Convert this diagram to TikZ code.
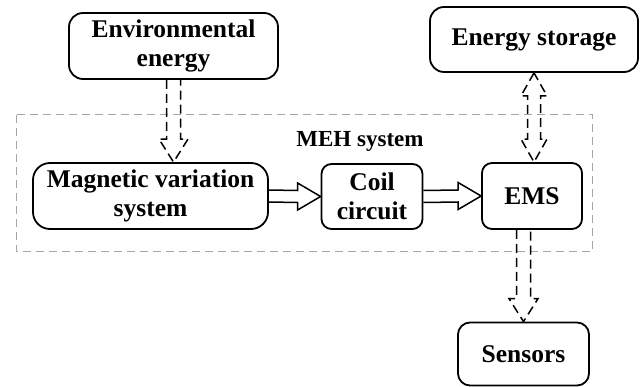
\documentclass[tikz,border=0pt]{standalone}
\usepackage{fontspec}
\setmainfont{Liberation Serif}
\usetikzlibrary{calc}

% block arrow outlines, start point and tip given by node anchors
\newcommand{\harrow}[2]{\draw[hollow] ($(#1)+(0,-6)$) -- ($(#2)+(-23,-6)$) -- ($(#2)+(-23,-13.5)$) -- (#2) -- ($(#2)+(-23,13.5)$) -- ($(#2)+(-23,6)$) -- ($(#1)+(0,6)$);}
\newcommand{\varrow}[2]{\draw[hollow, dashed line] ($(#1)+(-7,0)$) -- ($(#2)+(-7,-23)$) -- ($(#2)+(-14.5,-23)$) -- (#2) -- ($(#2)+(14.5,-23)$) -- ($(#2)+(7,-23)$) -- ($(#1)+(7,0)$);}
\newcommand{\bdarrow}[2]{\draw[hollow, dashed line] (#1) -- ($(#1)+(-13,23)$) -- ($(#1)+(-6.5,23)$) -- ($(#2)+(-6.5,-23)$) -- ($(#2)+(-13,-23)$) -- (#2) -- ($(#2)+(13,-23)$) -- ($(#2)+(6.5,-23)$) -- ($(#1)+(6.5,23)$) -- ($(#1)+(13,23)$) -- cycle;}

\begin{document}
\begin{tikzpicture}[x=1pt, y=-1pt,
  box/.style={draw, line width=1.8pt, rounded corners=14pt, align=center, inner sep=0pt,
    font=\fontsize{25.5}{29}\selectfont\bfseries},
  hollow/.style={line width=1.5pt, line join=miter},
  dashed line/.style={dash pattern=on 9pt off 5pt}]
\useasboundingbox (0,0) rectangle (644,387);
\draw[gray!70, line width=1pt, dash pattern=on 8pt off 5pt] (16.5,115) rectangle (592.5,251.5);
\node[font=\fontsize{23}{27}\selectfont\bfseries] (meh) at (360,141) {MEH system};
\node[box, minimum width=209pt, minimum height=66pt] (env) at (173.5,46) {Environmental\\energy};
\node[box, minimum width=208pt, minimum height=65pt] (store) at (534,39.5) {Energy storage};
\node[box, minimum width=235pt, minimum height=66pt, rounded corners=17pt] (mvs) at (150.5,196) {Magnetic variation\\system};
\node[box, minimum width=101pt, minimum height=65pt, rounded corners=10pt] (coil) at (372,196.5) {Coil\\circuit};
\node[box, minimum width=100pt, minimum height=66pt, rounded corners=10pt] (ems) at (532,196) {EMS};
\node[box, minimum width=131pt, minimum height=63pt, rounded corners=12pt] (sens) at (523.5,354) {Sensors};
\varrow{env.south}{env.south |- mvs.north}
\bdarrow{store.south}{store.south |- ems.north}
\varrow{sens.north |- ems.south}{sens.north}
\harrow{mvs.east}{coil.west}
\harrow{coil.east}{ems.west}
\end{tikzpicture}
\end{document}
